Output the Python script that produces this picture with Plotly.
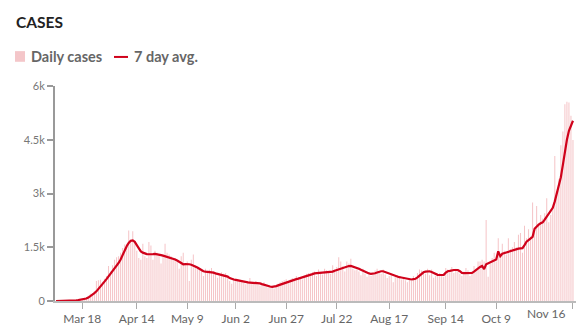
import pandas as pd
import plotly.graph_objects as go

start_date = "2020-03-05"

daily_cases = (
    [0, 0, 2, 1, 3, 5, 6, 10, 12, 20]
    + [25, 30, 40, 45, 70, 100, 150]
    + [200, 150, 280, 560, 580, 590, 540]
    + [620, 700, 980, 820, 1000, 1150, 1220]
    + [1250, 1350, 1480, 1580, 1600, 1970, 1700]
    + [1950, 1650, 1400, 1200, 1150, 1600, 1250]
    + [1200, 1650, 1550, 1150, 1400, 1350, 1300]
    + [1050, 1250, 1600, 1350, 1300, 1250, 1150]
    + [1200, 1100, 900, 1250, 1350, 1050, 1100]
    + [560, 1150, 1300, 1000, 950, 900, 850]
    + [700, 900, 780, 870, 920, 830, 760]
    + [650, 700, 800, 760, 780, 660, 560]
    + [480, 640, 620, 600, 550, 580, 500]
    + [470, 560, 640, 520, 480, 560, 460]
    + [430, 460, 520, 410, 380, 420, 400]
    + [350, 430, 480, 520, 560, 580, 610]
    + [540, 600, 640, 560, 700, 660, 620]
    + [600, 720, 760, 780, 700, 800, 820]
    + [700, 880, 760, 740, 900, 860, 780]
    + [760, 1000, 880, 950, 1220, 1100, 980]
    + [820, 1100, 1050, 1180, 900, 860, 880]
    + [820, 720, 900, 760, 680, 720, 700]
    + [780, 850, 900, 820, 760, 880, 740]
    + [640, 700, 760, 520, 680, 720, 650]
    + [600, 640, 580, 520, 620, 560, 700]
    + [660, 780, 880, 850, 820, 760, 900]
    + [720, 880, 650, 700, 760, 780, 740]
    + [680, 920, 880, 800, 950, 780, 900]
    + [820, 760, 700, 820, 920, 860, 700]
    + [760, 980, 900, 1100, 1100, 1150, 1100]
    + [2260, 680, 1050, 1200, 1350, 1100, 1750]
    + [1250, 1600, 1400, 1300, 1750, 1450, 1500]
    + [1650, 1500, 1850, 1900, 1350, 2100, 1750]
    + [2000, 1800, 2750, 2050, 2650, 2150, 2400]
    + [2300, 2450, 2870, 2200, 2400, 2600, 4050]
    + [3000, 3400, 4350, 4730, 5490, 5560, 5540]
    + [5170, 4490]
)

avg_7day = (
    [0, 0, 1, 2, 3, 4, 6, 8, 11, 15]
    + [20, 26, 33, 40, 50, 68, 95]
    + [130, 170, 216, 270, 330, 395, 465]
    + [540, 610, 680, 750, 820, 890, 970]
    + [1060, 1160, 1300, 1420, 1530, 1620, 1680]
    + [1690, 1650, 1560, 1470, 1385, 1350, 1320]
    + [1310, 1305, 1300, 1310, 1315, 1310, 1300]
    + [1280, 1265, 1250, 1235, 1220, 1200, 1180]
    + [1160, 1130, 1090, 1050, 1025, 1030, 1035]
    + [1025, 1010, 990, 960, 935, 900, 860]
    + [830, 820, 815, 810, 805, 790, 770]
    + [755, 740, 725, 715, 710, 680, 640]
    + [610, 600, 590, 575, 560, 545, 530]
    + [525, 520, 515, 510, 505, 505, 505]
    + [490, 470, 450, 430, 415, 405, 395]
    + [400, 415, 435, 455, 475, 500, 530]
    + [550, 565, 580, 595, 610, 625, 640]
    + [655, 670, 690, 710, 730, 750, 770]
    + [775, 780, 785, 790, 790, 795, 800]
    + [800, 820, 845, 865, 880, 900, 920]
    + [940, 960, 975, 980, 965, 940, 920]
    + [900, 870, 840, 810, 785, 770, 755]
    + [760, 775, 795, 815, 830, 830, 810]
    + [780, 750, 730, 710, 695, 680, 665]
    + [655, 645, 630, 615, 600, 600, 610]
    + [620, 660, 710, 760, 800, 820, 830]
    + [830, 810, 780, 750, 730, 725, 730]
    + [730, 790, 830, 840, 860, 865, 865]
    + [865, 830, 785, 780, 780, 785, 785]
    + [785, 820, 865, 920, 950, 980, 890]
    + [1025, 1050, 1070, 1100, 1130, 1160, 1385]
    + [1250, 1320, 1340, 1360, 1380, 1400, 1420]
    + [1430, 1445, 1460, 1470, 1475, 1560, 1655]
    + [1700, 1750, 1790, 2015, 2080, 2130, 2170]
    + [2195, 2270, 2350, 2430, 2520, 2600, 2780]
    + [3005, 3200, 3455, 3800, 4220, 4500, 4750]
    + [4895, 5030]
)

dates = pd.date_range(start_date, periods=len(avg_7day), freq="D")

x_tick_dates = ["2020-03-18", "2020-04-14", "2020-05-09", "2020-06-02", "2020-06-27",
                "2020-07-22", "2020-08-17", "2020-09-14", "2020-10-09", "2020-11-16"]
x_tick_labels = ["Mar 18", "Apr 14", "May 9", "Jun 2", "Jun 27",
                 "Jul 22", "Aug 17", "Sep 14", "Oct 9", "Nov 16"]
y_tick_vals = [0, 1500, 3000, 4500, 6000]
y_tick_labels = ["0", "1.5k", "3k", "4.5k", "6k"]

BAR_COLOR = "rgba(238,157,162,0.6)"
LEGEND_SQ = "#f4c6c9"
LINE_COLOR = "#d0021b"
FONT = "Lato"

fig = go.Figure()
fig.add_trace(go.Bar(x=dates, y=daily_cases[:len(dates)], marker_color=BAR_COLOR,
                     marker_line_width=0, name="Daily cases", showlegend=False))
fig.add_trace(go.Scatter(x=dates, y=avg_7day, mode="lines",
                         line=dict(color=LINE_COLOR, width=2.2),
                         name="7 day avg.", showlegend=False))

W, H = 583, 333
ml, mr, mt, mb = 55, 7, 86, 25
pw, ph = W - ml - mr, H - mt - mb

def px(xp):
    return (xp - ml) / pw

def py(yp):
    return (H - mb - yp) / ph

# last tick label is drawn separately (shifted left like the reference)
tick_text_axis = x_tick_labels[:-1] + [""]

fig.update_layout(
    width=W, height=H,
    margin=dict(l=ml, r=mr, t=mt, b=mb),
    paper_bgcolor="white", plot_bgcolor="white",
    bargap=0.5,
    font=dict(family=FONT, color="#666"),
    xaxis=dict(
        type="date",
        range=["2020-03-04 12:00", "2020-11-17 12:00"],
        tickvals=x_tick_dates, ticktext=tick_text_axis,
        ticks="outside", ticklen=6, tickcolor="#aaa", tickwidth=1,
        showline=True, linecolor="#bbb", linewidth=1.5,
        showgrid=False, zeroline=False,
        tickfont=dict(size=12, color="#666", family=FONT),
    ),
    yaxis=dict(
        range=[0, 6000],
        tickvals=y_tick_vals, ticktext=y_tick_labels,
        ticks="outside", ticklen=6, tickcolor="#999", tickwidth=1.5,
        showline=True, linecolor="#999", linewidth=2,
        showgrid=False, zeroline=False,
        tickfont=dict(size=11, color="#777", family=FONT),
    ),
)

fig.add_annotation(text=x_tick_labels[-1], xref="x", yref="paper",
                   x=x_tick_dates[-1], y=py(321), xanchor="right", yanchor="middle",
                   xshift=-5, showarrow=False,
                   font=dict(size=12, color="#666", family=FONT))

fig.add_annotation(text="<b>CASES</b>", xref="paper", yref="paper",
                   x=px(14), y=py(20), xanchor="left", yanchor="middle",
                   showarrow=False, font=dict(size=15.5, color="#222", family=FONT))

fig.add_shape(type="rect", xref="paper", yref="paper",
              x0=px(15), x1=px(25), y0=py(61), y1=py(50),
              fillcolor=LEGEND_SQ, line_width=0)
fig.add_annotation(text="<b>Daily cases</b>", xref="paper", yref="paper",
                   x=px(29), y=py(55.5), xanchor="left", yanchor="middle",
                   showarrow=False, font=dict(size=14.5, color="#666", family=FONT))
fig.add_shape(type="line", xref="paper", yref="paper",
              x0=px(114), x1=px(128), y0=py(56), y1=py(56),
              line=dict(color=LINE_COLOR, width=2))
fig.add_annotation(text="<b>7 day avg.</b>", xref="paper", yref="paper",
                   x=px(132), y=py(55.5), xanchor="left", yanchor="middle",
                   showarrow=False, font=dict(size=14.5, color="#666", family=FONT))

fig.write_html("out.html")
